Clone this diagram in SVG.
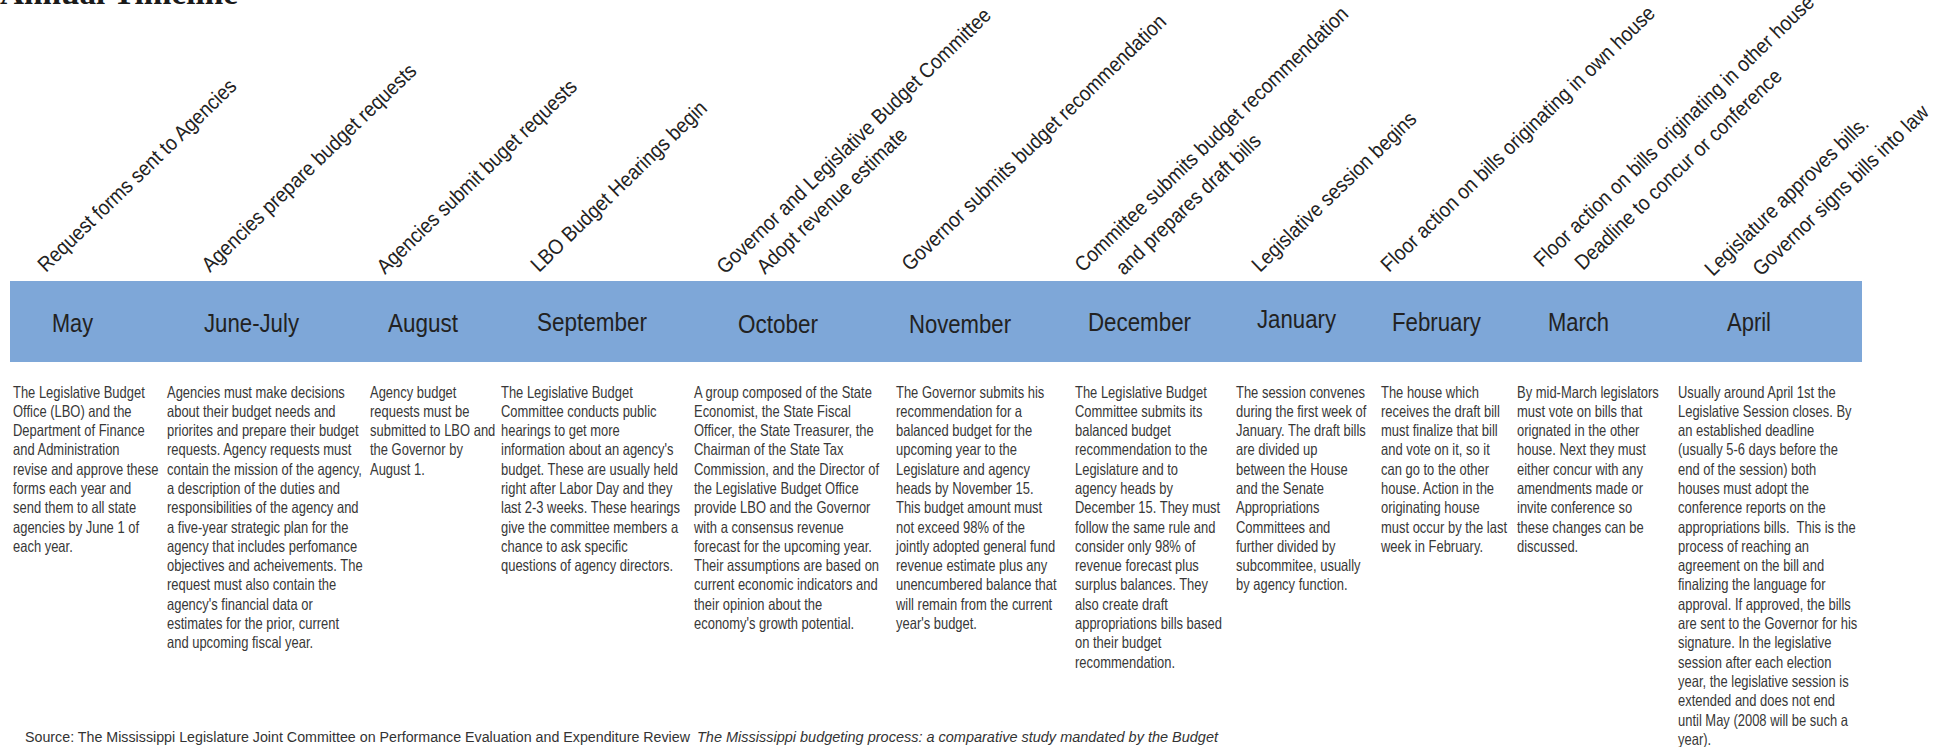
<svg xmlns="http://www.w3.org/2000/svg" width="1942" height="747" viewBox="0 0 1942 747">
<style>
.title{font-family:"Liberation Serif","Times New Roman",serif;font-weight:bold;font-size:33px;fill:#1a1a1a}
.month{font-family:"Liberation Sans",Arial,sans-serif;font-size:25px;fill:#222}
.event{font-family:"Liberation Sans",Arial,sans-serif;font-size:21px;fill:#222}
.desc{font-family:"Liberation Sans",Arial,sans-serif;font-size:16.3px;fill:#383838}
.src{font-family:"Liberation Sans",Arial,sans-serif;font-size:15.5px;fill:#333}
.band{fill:#7ea7d8}
</style>
<rect width="1942" height="747" fill="#ffffff"/>
<text class="title" x="0" y="4" textLength="238" lengthAdjust="spacingAndGlyphs">Annual Timeline</text>
<rect id="band" class="band" x="10" y="281" width="1852" height="81"/>
<g id="connectors"/>

<g id="may">
<text class="event" transform="translate(46,273) rotate(-44) scale(0.9,1)">Request forms sent to Agencies</text>
<text class="month" x="52" y="332" textLength="41" lengthAdjust="spacingAndGlyphs">May</text>
<g transform="translate(13,397.5) scale(0.795,1)"><text class="desc">
<tspan x="0" y="0">The Legislative Budget</tspan>
<tspan x="0" dy="19.3">Office (LBO) and the</tspan>
<tspan x="0" dy="19.3">Department of Finance</tspan>
<tspan x="0" dy="19.3">and Administration</tspan>
<tspan x="0" dy="19.3">revise and approve these</tspan>
<tspan x="0" dy="19.3">forms each year and</tspan>
<tspan x="0" dy="19.3">send them to all state</tspan>
<tspan x="0" dy="19.3">agencies by June 1 of</tspan>
<tspan x="0" dy="19.3">each year.</tspan>
</text></g>
</g>

<g id="june-july">
<text class="event" transform="translate(210,273) rotate(-44) scale(0.9,1)">Agencies prepare budget requests</text>
<text class="month" x="204" y="332" textLength="95" lengthAdjust="spacingAndGlyphs">June-July</text>
<g transform="translate(167,397.5) scale(0.795,1)"><text class="desc">
<tspan x="0" y="0">Agencies must make decisions</tspan>
<tspan x="0" dy="19.3">about their budget needs and</tspan>
<tspan x="0" dy="19.3">priorites and prepare their budget</tspan>
<tspan x="0" dy="19.3">requests. Agency requests must</tspan>
<tspan x="0" dy="19.3">contain the mission of the agency,</tspan>
<tspan x="0" dy="19.3">a description of the duties and</tspan>
<tspan x="0" dy="19.3">responsibilities of the agency and</tspan>
<tspan x="0" dy="19.3">a five-year strategic plan for the</tspan>
<tspan x="0" dy="19.3">agency that includes perfomance</tspan>
<tspan x="0" dy="19.3">objectives and acheivements. The</tspan>
<tspan x="0" dy="19.3">request must also contain the</tspan>
<tspan x="0" dy="19.3">agency's financial data or</tspan>
<tspan x="0" dy="19.3">estimates for the prior, current</tspan>
<tspan x="0" dy="19.3">and upcoming fiscal year.</tspan>
</text></g>
</g>

<g id="august">
<text class="event" transform="translate(385,275) rotate(-44) scale(0.9,1)">Agencies submit buget requests</text>
<text class="month" x="388" y="332" textLength="70" lengthAdjust="spacingAndGlyphs">August</text>
<g transform="translate(370,397.5) scale(0.795,1)"><text class="desc">
<tspan x="0" y="0">Agency budget</tspan>
<tspan x="0" dy="19.3">requests must be</tspan>
<tspan x="0" dy="19.3">submitted to LBO and</tspan>
<tspan x="0" dy="19.3">the Governor by</tspan>
<tspan x="0" dy="19.3">August 1.</tspan>
</text></g>
</g>

<g id="september">
<text class="event" transform="translate(539,273) rotate(-44) scale(0.9,1)">LBO Budget Hearings begin</text>
<text class="month" x="537" y="331" textLength="110" lengthAdjust="spacingAndGlyphs">September</text>
<g transform="translate(501,397.5) scale(0.795,1)"><text class="desc">
<tspan x="0" y="0">The Legislative Budget</tspan>
<tspan x="0" dy="19.3">Committee conducts public</tspan>
<tspan x="0" dy="19.3">hearings to get more</tspan>
<tspan x="0" dy="19.3">information about an agency's</tspan>
<tspan x="0" dy="19.3">budget. These are usually held</tspan>
<tspan x="0" dy="19.3">right after Labor Day and they</tspan>
<tspan x="0" dy="19.3">last 2-3 weeks. These hearings</tspan>
<tspan x="0" dy="19.3">give the committee members a</tspan>
<tspan x="0" dy="19.3">chance to ask specific</tspan>
<tspan x="0" dy="19.3">questions of agency directors.</tspan>
</text></g>
</g>

<g id="october">
<text class="event" transform="translate(725,275) rotate(-44) scale(0.9,1)">Governor and Legislative Budget Committee</text>
<text class="event" transform="translate(765,275) rotate(-44) scale(0.9,1)">Adopt revenue estimate</text>
<text class="month" x="738" y="333" textLength="80" lengthAdjust="spacingAndGlyphs">October</text>
<g transform="translate(694,397.5) scale(0.795,1)"><text class="desc">
<tspan x="0" y="0">A group composed of the State</tspan>
<tspan x="0" dy="19.3">Economist, the State Fiscal</tspan>
<tspan x="0" dy="19.3">Officer, the State Treasurer, the</tspan>
<tspan x="0" dy="19.3">Chairman of the State Tax</tspan>
<tspan x="0" dy="19.3">Commission, and the Director of</tspan>
<tspan x="0" dy="19.3">the Legislative Budget Office</tspan>
<tspan x="0" dy="19.3">provide LBO and the Governor</tspan>
<tspan x="0" dy="19.3">with a consensus revenue</tspan>
<tspan x="0" dy="19.3">forecast for the upcoming year.</tspan>
<tspan x="0" dy="19.3">Their assumptions are based on</tspan>
<tspan x="0" dy="19.3">current economic indicators and</tspan>
<tspan x="0" dy="19.3">their opinion about the</tspan>
<tspan x="0" dy="19.3">economy's growth potential.</tspan>
</text></g>
</g>

<g id="november">
<text class="event" transform="translate(910,272) rotate(-44) scale(0.9,1)">Governor submits budget recommendation</text>
<text class="month" x="909" y="333" textLength="102" lengthAdjust="spacingAndGlyphs">November</text>
<g transform="translate(896,397.5) scale(0.795,1)"><text class="desc">
<tspan x="0" y="0">The Governor submits his</tspan>
<tspan x="0" dy="19.3">recommendation for a</tspan>
<tspan x="0" dy="19.3">balanced budget for the</tspan>
<tspan x="0" dy="19.3">upcoming year to the</tspan>
<tspan x="0" dy="19.3">Legislature and agency</tspan>
<tspan x="0" dy="19.3">heads by November 15.</tspan>
<tspan x="0" dy="19.3">This budget amount must</tspan>
<tspan x="0" dy="19.3">not exceed 98% of the</tspan>
<tspan x="0" dy="19.3">jointly adopted general fund</tspan>
<tspan x="0" dy="19.3">revenue estimate plus any</tspan>
<tspan x="0" dy="19.3">unencumbered balance that</tspan>
<tspan x="0" dy="19.3">will remain from the current</tspan>
<tspan x="0" dy="19.3">year's budget.</tspan>
</text></g>
</g>

<g id="december">
<text class="event" transform="translate(1083,273) rotate(-44) scale(0.9,1)">Committee submits budget recommendation</text>
<text class="event" transform="translate(1124,276) rotate(-44) scale(0.9,1)">and prepares draft bills</text>
<text class="month" x="1088" y="331" textLength="103" lengthAdjust="spacingAndGlyphs">December</text>
<g transform="translate(1075,397.5) scale(0.795,1)"><text class="desc">
<tspan x="0" y="0">The Legislative Budget</tspan>
<tspan x="0" dy="19.3">Committee submits its</tspan>
<tspan x="0" dy="19.3">balanced budget</tspan>
<tspan x="0" dy="19.3">recommendation to the</tspan>
<tspan x="0" dy="19.3">Legislature and to</tspan>
<tspan x="0" dy="19.3">agency heads by</tspan>
<tspan x="0" dy="19.3">December 15. They must</tspan>
<tspan x="0" dy="19.3">follow the same rule and</tspan>
<tspan x="0" dy="19.3">consider only 98% of</tspan>
<tspan x="0" dy="19.3">revenue forecast plus</tspan>
<tspan x="0" dy="19.3">surplus balances. They</tspan>
<tspan x="0" dy="19.3">also create draft</tspan>
<tspan x="0" dy="19.3">appropriations bills based</tspan>
<tspan x="0" dy="19.3">on their budget</tspan>
<tspan x="0" dy="19.3">recommendation.</tspan>
</text></g>
</g>

<g id="january">
<text class="event" transform="translate(1260,273) rotate(-44) scale(0.9,1)">Legislative session begins</text>
<text class="month" x="1257" y="328" textLength="79" lengthAdjust="spacingAndGlyphs">January</text>
<g transform="translate(1236,397.5) scale(0.795,1)"><text class="desc">
<tspan x="0" y="0">The session convenes</tspan>
<tspan x="0" dy="19.3">during the first week of</tspan>
<tspan x="0" dy="19.3">January. The draft bills</tspan>
<tspan x="0" dy="19.3">are divided up</tspan>
<tspan x="0" dy="19.3">between the House</tspan>
<tspan x="0" dy="19.3">and the Senate</tspan>
<tspan x="0" dy="19.3">Appropriations</tspan>
<tspan x="0" dy="19.3">Committees and</tspan>
<tspan x="0" dy="19.3">further divided by</tspan>
<tspan x="0" dy="19.3">subcommitee, usually</tspan>
<tspan x="0" dy="19.3">by agency function.</tspan>
</text></g>
</g>

<g id="february">
<text class="event" transform="translate(1389,273) rotate(-44) scale(0.9,1)">Floor action on bills originating in own house</text>
<text class="month" x="1392" y="331" textLength="89" lengthAdjust="spacingAndGlyphs">February</text>
<g transform="translate(1381,397.5) scale(0.795,1)"><text class="desc">
<tspan x="0" y="0">The house which</tspan>
<tspan x="0" dy="19.3">receives the draft bill</tspan>
<tspan x="0" dy="19.3">must finalize that bill</tspan>
<tspan x="0" dy="19.3">and vote on it, so it</tspan>
<tspan x="0" dy="19.3">can go to the other</tspan>
<tspan x="0" dy="19.3">house. Action in the</tspan>
<tspan x="0" dy="19.3">originating house</tspan>
<tspan x="0" dy="19.3">must occur by the last</tspan>
<tspan x="0" dy="19.3">week in February.</tspan>
</text></g>
</g>

<g id="march">
<text class="event" transform="translate(1542,268) rotate(-44) scale(0.9,1)">Floor action on bills originating in other house</text>
<text class="event" transform="translate(1583,271) rotate(-44) scale(0.9,1)">Deadline to concur or conference</text>
<text class="month" x="1548" y="331" textLength="61" lengthAdjust="spacingAndGlyphs">March</text>
<g transform="translate(1517,397.5) scale(0.795,1)"><text class="desc">
<tspan x="0" y="0">By mid-March legislators</tspan>
<tspan x="0" dy="19.3">must vote on bills that</tspan>
<tspan x="0" dy="19.3">orignated in the other</tspan>
<tspan x="0" dy="19.3">house. Next they must</tspan>
<tspan x="0" dy="19.3">either concur with any</tspan>
<tspan x="0" dy="19.3">amendments made or</tspan>
<tspan x="0" dy="19.3">invite conference so</tspan>
<tspan x="0" dy="19.3">these changes can be</tspan>
<tspan x="0" dy="19.3">discussed.</tspan>
</text></g>
</g>

<g id="april">
<text class="event" transform="translate(1713,277) rotate(-44) scale(0.9,1)">Legislature approves bills.</text>
<text class="event" transform="translate(1761,277) rotate(-44) scale(0.9,1)">Governor signs bills into law</text>
<text class="month" x="1727" y="331" textLength="44" lengthAdjust="spacingAndGlyphs">April</text>
<g transform="translate(1678,397.5) scale(0.795,1)"><text class="desc">
<tspan x="0" y="0">Usually around April 1st the</tspan>
<tspan x="0" dy="19.3">Legislative Session closes. By</tspan>
<tspan x="0" dy="19.3">an established deadline</tspan>
<tspan x="0" dy="19.3">(usually 5-6 days before the</tspan>
<tspan x="0" dy="19.3">end of the session) both</tspan>
<tspan x="0" dy="19.3">houses must adopt the</tspan>
<tspan x="0" dy="19.3">conference reports on the</tspan>
<tspan x="0" dy="19.3" xml:space="preserve">appropriations bills.  This is the</tspan>
<tspan x="0" dy="19.3">process of reaching an</tspan>
<tspan x="0" dy="19.3">agreement on the bill and</tspan>
<tspan x="0" dy="19.3">finalizing the language for</tspan>
<tspan x="0" dy="19.3">approval. If approved, the bills</tspan>
<tspan x="0" dy="19.3">are sent to the Governor for his</tspan>
<tspan x="0" dy="19.3">signature. In the legislative</tspan>
<tspan x="0" dy="19.3">session after each election</tspan>
<tspan x="0" dy="19.3">year, the legislative session is</tspan>
<tspan x="0" dy="19.3">extended and does not end</tspan>
<tspan x="0" dy="19.3">until May (2008 will be such a</tspan>
<tspan x="0" dy="19.3">year).</tspan>
</text></g>
</g>

<g id="source">
<text class="src" x="25" y="742" textLength="665" lengthAdjust="spacingAndGlyphs">Source: The Mississippi Legislature Joint Committee on Performance Evaluation and Expenditure Review</text>
<text class="src" x="697" y="742" font-style="italic" textLength="521" lengthAdjust="spacingAndGlyphs">The Mississippi budgeting process: a comparative study mandated by the Budget</text>
</g>
</svg>
